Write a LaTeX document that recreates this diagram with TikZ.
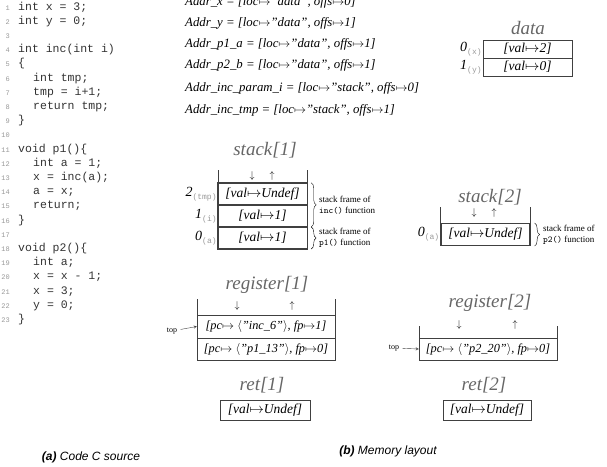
\documentclass[tikz,border=0pt]{standalone}
\usepackage{fontspec}
\setmainfont{Liberation Serif}
\newfontfamily\capfont{Liberation Sans}
\newfontfamily\codefont{Liberation Mono}
\usetikzlibrary{positioning}
\usetikzlibrary{decorations.pathreplacing}
\definecolor{boxgray}{gray}{0.25}
\definecolor{titlegray}{gray}{0.4}
\definecolor{numgray}{gray}{0.6}
\newcommand{\slot}[2]{{\fontsize{14}{14}\selectfont\itshape #1}{\codefont\fontsize{8}{8}\selectfont\color{numgray}\raisebox{-3pt}{(#2)}}}
\tikzset{%
  codeline/.style = {anchor=base west,inner sep=0pt,
        font=\codefont\fontsize{11.5}{12}\selectfont,text=black!80},
  lineno/.style = {anchor=base east,inner sep=0pt,
        font=\codefont\fontsize{7}{8}\selectfont,text=numgray},
  addr/.style = {anchor=base west,inner sep=0pt,
        font=\fontsize{12.8}{14}\selectfont\itshape},
  cell/.style = {draw=boxgray,minimum width=89pt,minimum height=21.7pt,
        inner sep=0pt,font=\fontsize{13.5}{14}\selectfont\itshape},
  reg/.style = {cell,minimum width=138pt,
        font=\fontsize{12.3}{14}\selectfont\itshape},
  title/.style = {text=titlegray,font=\fontsize{19}{20}\selectfont\itshape},
  lbl/.style = {anchor=east,inner sep=1pt},
  brace/.style = {decorate,decoration={brace,amplitude=5pt}},
  note/.style = {anchor=west,align=left,inner sep=0pt,
        font=\fontsize{9}{11}\selectfont},
  ptr/.style = {-stealth,boxgray}
}
\begin{document}
\begin{tikzpicture}[x=1pt,y=-1pt]
   \useasboundingbox (0,0) rectangle (607,466);

   % source code
   \foreach \i in {1,...,23}
     \node[lineno] at (10,{10+(\i-1)*14.2}) {\i};
   \foreach \i/\ind/\t in {1/0/{int x = 3;},2/0/{int y = 0;},
       4/0/{int inc(int i)},5/0/{\{},6/1/{int tmp;},7/1/{tmp = i+1;},
       8/1/{return tmp;},9/0/{\}},11/0/{void p1()\{},12/1/{int a = 1;},
       13/1/{x = inc(a);},14/1/{a = x;},15/1/{return;},16/0/{\}},
       18/0/{void p2()\{},19/1/{int a;},20/1/{x = x - 1;},21/1/{x = 3;},
       22/1/{y = 0;},23/0/{\}}}
     \node[codeline] at ({18+\ind*15},{10+(\i-1)*14.2}) {\t};

   % addresses
   \node[addr] (ax) at (185,5) {Addr\_x = [loc$\mapsto$''data'', offs$\mapsto$0]};
   \node[addr] (ay) at (185,26) {Addr\_y = [loc$\mapsto$''data'', offs$\mapsto$1]};
   \node[addr] (ap1) at (185,47) {Addr\_p1\_a = [loc$\mapsto$''data'', offs$\mapsto$1]};
   \node[addr] (ap2) at (185,68) {Addr\_p2\_b = [loc$\mapsto$''data'', offs$\mapsto$1]};
   \node[addr] (ai) at (185,91) {Addr\_inc\_param\_i = [loc$\mapsto$''stack'', offs$\mapsto$0]};
   \node[addr] (at) at (185,113) {Addr\_inc\_tmp = [loc$\mapsto$''stack'', offs$\mapsto$1]};

   % data
   \node[title] (data-t) at (528,28) {data};
   \node[cell,minimum height=18pt] (dx) at (527.5,49) {[val$\mapsto$2]};
   \node[cell,minimum height=18pt] (dy) at (527.5,67) {[val$\mapsto$0]};
   \node[lbl] at (dx.west) {\slot{0}{x}};
   \node[lbl] at (dy.west) {\slot{1}{y}};

   % stack 1
   \node[title] (s1-t) at (265,150) {stack[1]};
   \node[cell] (s1tmp) at (262.5,193.8) {[val$\mapsto$Undef]};
   \node[cell] (s1i) [below=0pt of s1tmp] {[val$\mapsto$1]};
   \node[cell] (s1a) [below=0pt of s1i] {[val$\mapsto$1]};
   \draw[very thick,boxgray] (s1tmp.north west) rectangle (s1a.south east);
   \draw[very thick,boxgray] (s1a.north west) -- (s1a.north east);
   \draw[boxgray] (s1tmp.north west) -- ++(0,-13);
   \draw[boxgray] (s1tmp.north east) -- ++(0,-13);
   \node at (252,176) {$\downarrow$};
   \node at (272,176) {$\uparrow$};
   \node[lbl] at (s1tmp.west) {\slot{2}{tmp}};
   \node[lbl] at (s1i.west) {\slot{1}{i}};
   \node[lbl] at (s1a.west) {\slot{0}{a}};
   \draw[brace] ([xshift=4pt]s1tmp.north east) -- ([xshift=4pt]s1i.south east);
   \draw[brace] ([xshift=4pt]s1a.north east) -- ([xshift=4pt]s1a.south east);
   \node[note] at (319,205) {stack frame of\\\texttt{inc()} function};
   \node[note] at (319,238) {stack frame of\\\texttt{p1()} function};

   % stack 2
   \node[title] (s2-t) at (490,197) {stack[2]};
   \node[cell,very thick] (s2a) at (485.5,234.5) {[val$\mapsto$Undef]};
   \draw[boxgray] (s2a.north west) -- ++(0,-16);
   \draw[boxgray] (s2a.north east) -- ++(0,-16);
   \node at (474,213) {$\downarrow$};
   \node at (494,213) {$\uparrow$};
   \node[lbl] at (s2a.west) {\slot{0}{a}};
   \draw[brace] ([xshift=4pt]s2a.north east) -- ([xshift=4pt]s2a.south east);
   \node[note] at (543,234.5) {stack frame of\\\texttt{p2()} function};

   % registers
   \node[title] (r1-t) at (267,285) {register[1]};
   \node[reg,minimum height=22.5pt] (r1a) at (266,326.5)
        {[pc$\mapsto\langle$''inc\_6''$\rangle$, fp$\mapsto$1]};
   \node[reg,minimum height=22.5pt] (r1b) [below=0pt of r1a]
        {[pc$\mapsto\langle$''p1\_13''$\rangle$, fp$\mapsto$0]};
   \draw[boxgray] (r1a.north west) -- ++(0,-16);
   \draw[boxgray] (r1a.north east) -- ++(0,-16);
   \node at (237,306) {$\downarrow$};
   \node at (292,306) {$\uparrow$};
   \node[font=\fontsize{8}{8}\selectfont] (top1) at (172,331) {top};
   \draw[ptr] (top1) -- (r1a.west);

   \node[title] (r2-t) at (490,303) {register[2]};
   \node[reg,minimum height=22pt] (r2a) at (488,349)
        {[pc$\mapsto\langle$''p2\_20''$\rangle$, fp$\mapsto$0]};
   \draw[boxgray] (r2a.north west) -- ++(0,-12);
   \draw[boxgray] (r2a.north east) -- ++(0,-12);
   \node at (459,325) {$\downarrow$};
   \node at (515,325) {$\uparrow$};
   \node[font=\fontsize{8}{8}\selectfont] (top2) at (394,348) {top};
   \draw[ptr] (top2) -- (r2a.west);

   % ret
   \node[title] (ret1-t) at (262,385) {ret[1]};
   \node[cell,minimum width=90pt,minimum height=20pt] (ret1) at (265,410) {[val$\mapsto$Undef]};
   \node[title] (ret2-t) at (484,385) {ret[2]};
   \node[cell,minimum width=88pt,minimum height=20pt] (ret2) at (487,410) {[val$\mapsto$Undef]};

   % captions
   \node[font=\capfont\itshape\fontsize{12}{12}\selectfont] (cap-a) at (91,457)
        {\textbf{(a)} Code C source};
   \node[font=\capfont\itshape\fontsize{12}{12}\selectfont] (cap-b) at (388,451)
        {\textbf{(b)} Memory layout};
\end{tikzpicture}
\end{document}
